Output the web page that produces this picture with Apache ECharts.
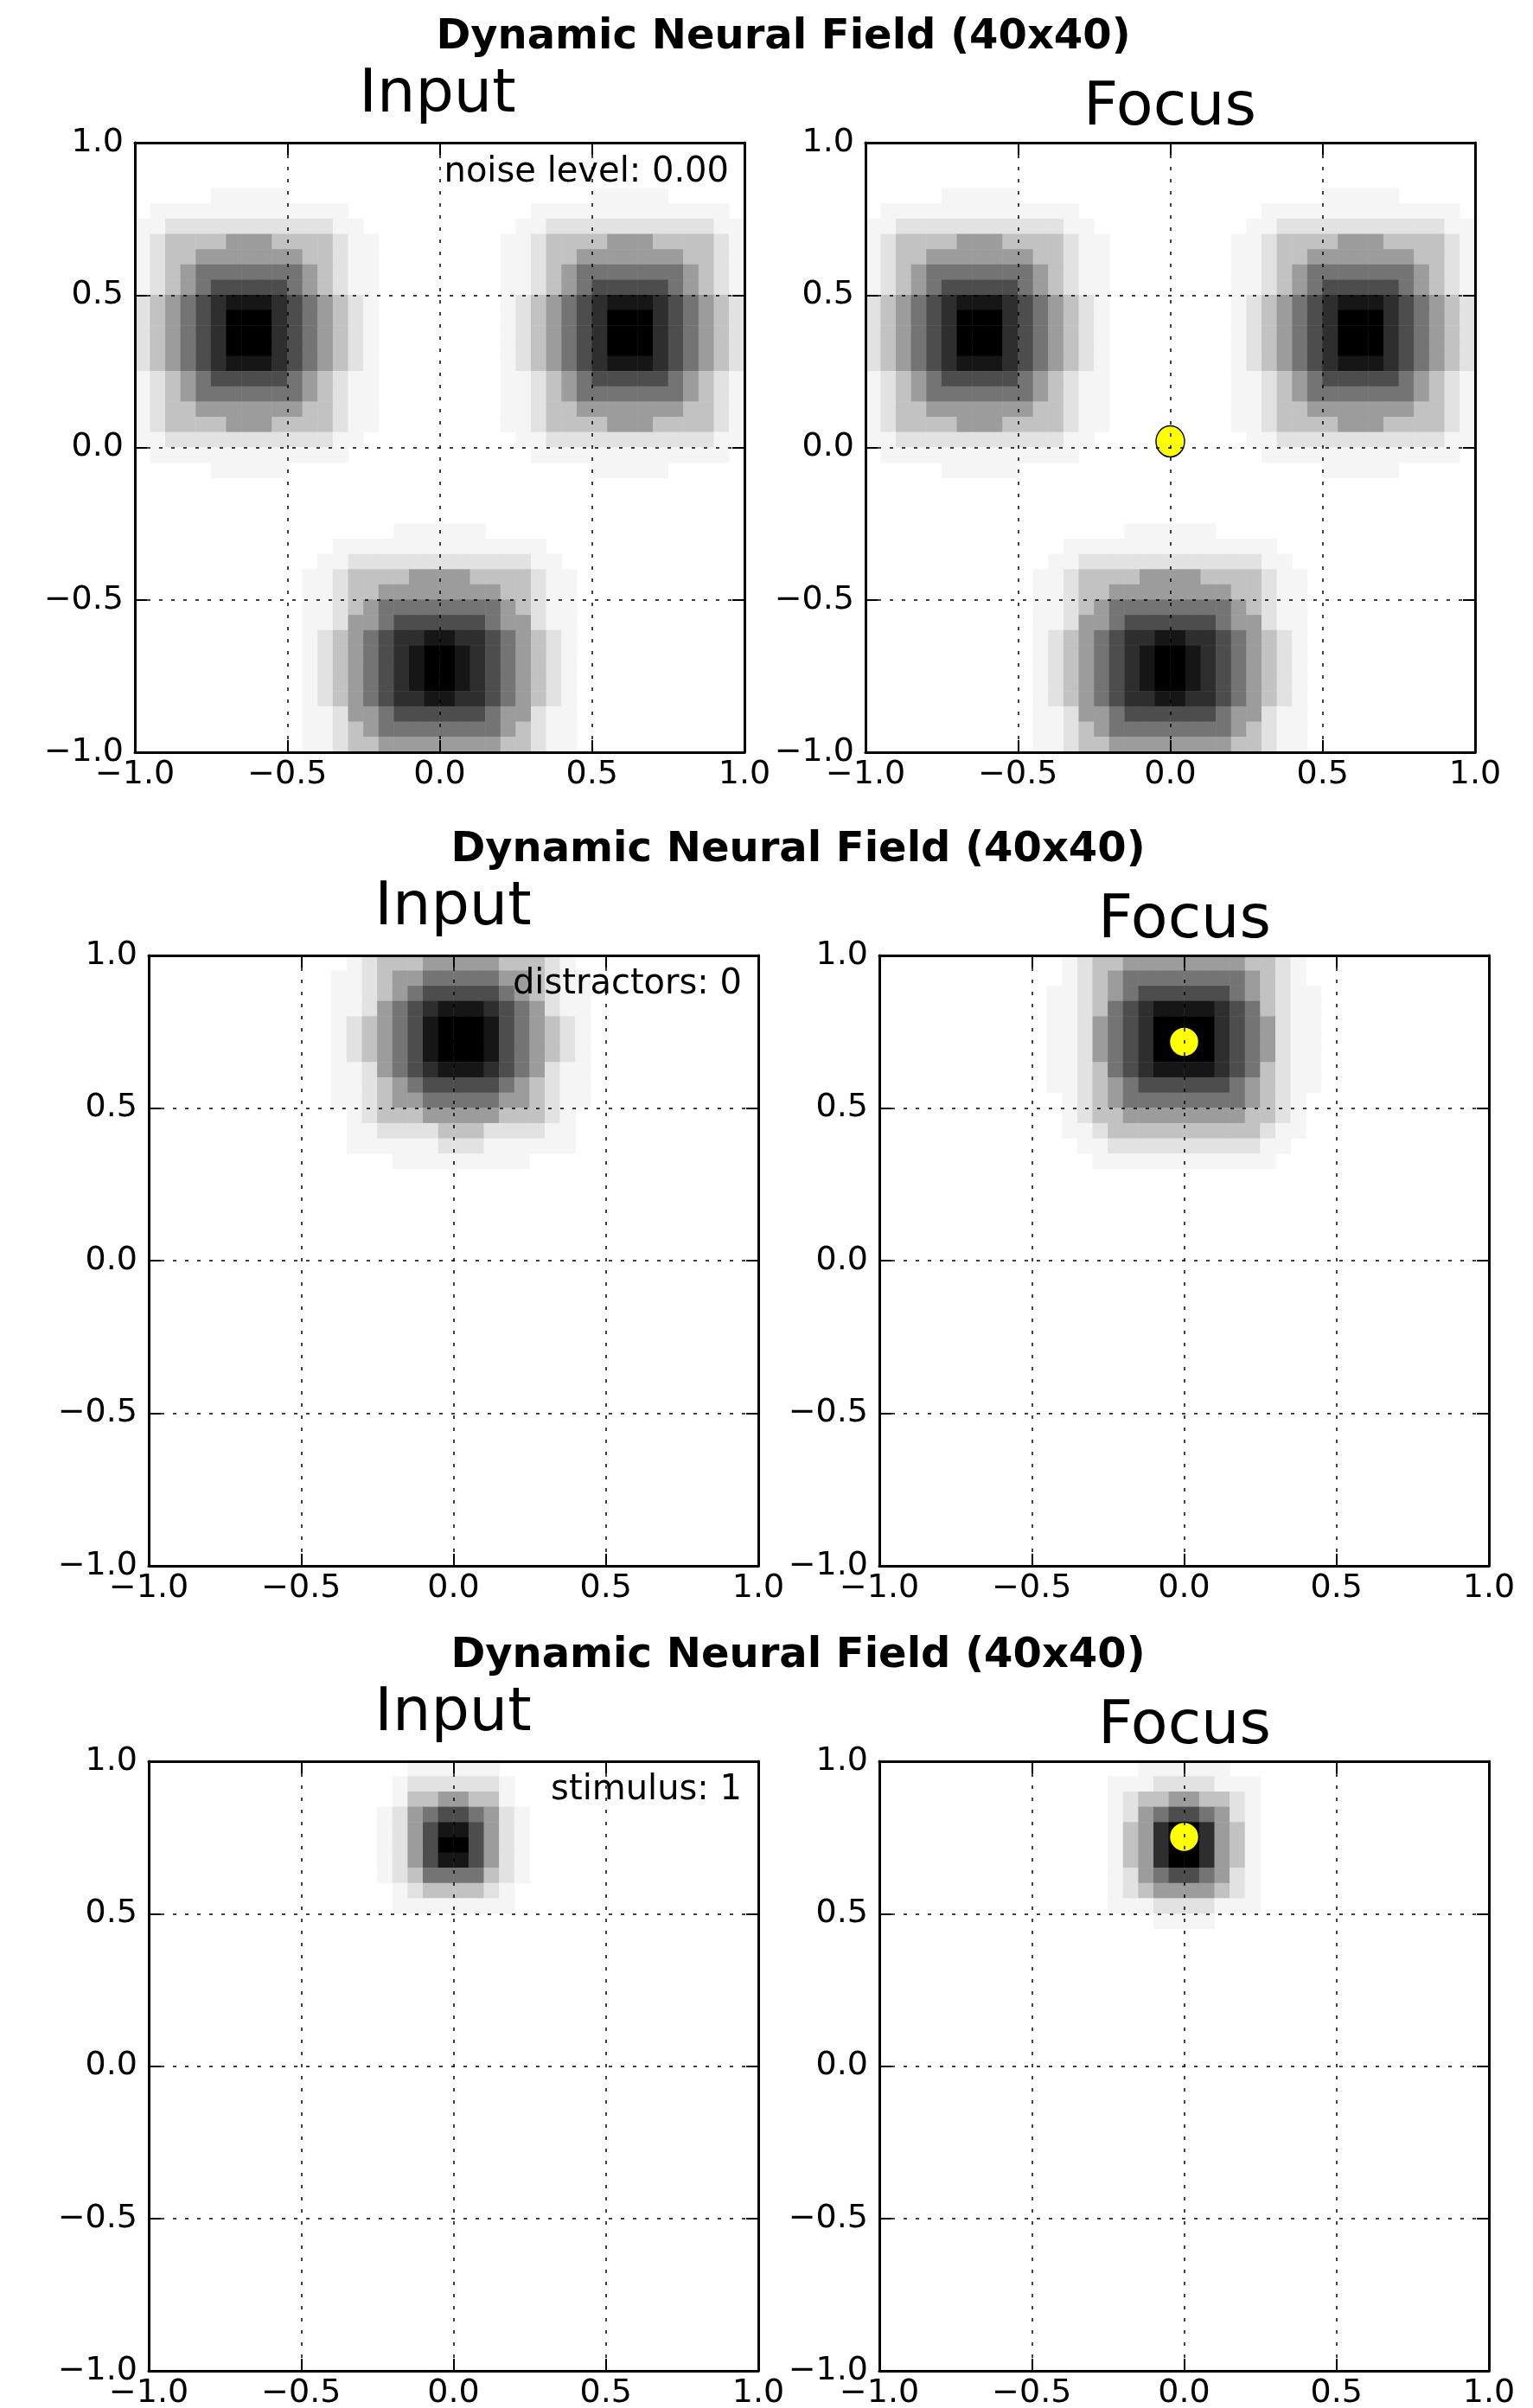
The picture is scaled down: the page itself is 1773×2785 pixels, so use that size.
<!DOCTYPE html>
<html><head><meta charset="utf-8">
<script src="https://cdn.jsdelivr.net/npm/echarts@6/dist/echarts.min.js"></script>
<style>html,body{margin:0;padding:0;background:#fff}#c{width:1773px;height:2785px}</style>
</head><body><div id="c"></div><script>
// ---------------- data ----------------
const figTitle = 'Dynamic Neural Field (40x40)';
const panelTitles = ['Input', 'Focus'];
const notes = ['noise level: 0.00', 'distractors: 0', 'stimulus: 1'];
const tickValues = [-1, -0.5, 0, 0.5, 1];
const tickLabels = ['\u22121.0', '\u22120.5', '0.0', '0.5', '1.0'];
// 40x40 field, darkness levels 0..9 (9 = black); patches anchored at [col, row-from-top]
const row1LeftBlob = [
 "00000111110000000","01111111111111000","11222222222221100","12333344433332110","12334444444332110",
 "12345555555432110","12345666665432110","23456788876543210","23456799976543210","23456799976543210",
 "23456799976543210","23456788876543210","12345666665432110","12345555555432110","12334444444332110",
 "12333344433332110","11222222222221100","01111111111111000","00000111110000000"];
const row1RightBlob = [
 "00000001111100000","00011111111111110","00112222222222211","01123333444333321","01123344444443321",
 "01123455555554321","01123456666654321","01234567888765432","01234567999765432","01234567999765432",
 "01234567999765432","01234567888765432","01123456666654321","01123455555554321","01123344444443321",
 "01123333444333321","00112222222222211","00011111111111110","00000001111100000"];
const row1BottomBlob = [
 "00000001111110000000","00011111111111111000","00112222222222221100","01123333444433332110",
 "01123344444444332110","01123455555555432110","01124456666665442110","01234567788776543210",
 "01234567899876543210","01234567899876543210","01234567899876543210","01234567788776543210",
 "01124456666665442110","01123455555555432110","01123344444444332110"];
const row2InputBlob = [
 "0012333444443332100","0112344555554432110","0112345666665432110","0112456788876542110",
 "0123456899986543210","0123456899986543210","0123456899986543210","0112456788876542110",
 "0112345666665432110","0112344555554432110","0012333444443332100","0011222233322221100",
 "0011111122211111100","0000011111111100000"];
const row2FocusBlob = [
 "00123344444444332100","00123455555555432100","01123456666665432110","01123567888876532110",
 "01124567999976542110","01124567999976542110","01124567999976542110","01123567888876532110",
 "01123456666665432110","00123455555555432100","00123344444444332100","00112333333333321100",
 "00011222222222211000","00001111111111110000"];
const row3InputBlob = [
 "0011111100","0122222210","0133443310","1245665421","1246886421",
 "1246996421","1246886421","1235555321","0123333210","0111111110"];
const row3FocusBlob = [
 "0011111100","1112222111","1233443321","1245665421","1347997431",
 "1347997431","1347997431","1245665421","1234444321","1112222111","0001111000"];
const row1Anchors = [[0, 3], [23, 3], [10, 25]];
const row2InputAnchor = [11, 0];
const row2FocusAnchor = [10, 0];
const row3Anchor = [15, 0];
const dotX = [0.0, 0.0, 0.0];
const dotY = [0.02, 0.717, 0.752];

// ---------------- build ----------------
const cellCats = Array.from({length: 40}, (_, i) => String(i));
function cellsFrom(list) {
  const out = [];
  list.forEach(([patch, anchor]) => {
    patch.forEach((s, r) => {
      for (let c = 0; c < s.length; c++) {
        const v = +s[c];
        if (v > 0) out.push([anchor[0] + c, anchor[1] + r, v]);
      }
    });
  });
  return out;
}
const row1Cells = cellsFrom([[row1LeftBlob, row1Anchors[0]], [row1RightBlob, row1Anchors[1]], [row1BottomBlob, row1Anchors[2]]]);
const panelCells = [
  row1Cells, row1Cells,
  cellsFrom([[row2InputBlob, row2InputAnchor]]), cellsFrom([[row2FocusBlob, row2FocusAnchor]]),
  cellsFrom([[row3InputBlob, row3Anchor]]), cellsFrom([[row3FocusBlob, row3Anchor]])
];

// layout (pixels)
const rects = [
  [156, 165, 705, 705], [1001, 165, 705, 705],
  [172, 1105, 705, 706], [1017, 1105, 705, 706],
  [172, 2037, 705, 705], [1017, 2037, 705, 705]
];
const dotSizes = [[33, 36], 34, 34];
const levelColors = ['#ffffff','#f5f5f5','#e2e2e2','#c2c2c2','#9c9c9c','#747474','#4d4d4d','#2e2e2e','#161616','#000000'];
const FONT = 'DejaVu Sans';
const fmt = v => { const i = tickValues.findIndex(t => Math.abs(t - v) < 1e-9); return i >= 0 ? tickLabels[i] : ''; };

const xAxis = [], yAxis = [], series = [], heatIdx = [];
rects.forEach((r, p) => {
  const line = {show: true, onZero: false, lineStyle: {color: '#000', width: 3}};
  const tick = {show: true, inside: true, length: 14, lineStyle: {color: '#000', width: 2}};
  const lab = {show: true, fontSize: 38, fontFamily: FONT, color: '#000', formatter: fmt};
  const split = {show: true, lineStyle: {color: '#000', width: 1.5, type: [4, 10]}};
  xAxis.push({type: 'category', gridIndex: p, data: cellCats, show: false, axisLine: {onZero: false}});
  xAxis.push({type: 'value', gridIndex: p, min: -1, max: 1, interval: 0.5, position: 'bottom', z: 5,
    axisLine: line, axisTick: tick, axisLabel: Object.assign({margin: 7}, lab), splitLine: split});
  xAxis.push({type: 'value', gridIndex: p, min: -1, max: 1, interval: 0.5, position: 'top', z: 5,
    axisLine: line, axisTick: tick, axisLabel: {show: false}, splitLine: {show: false}});
  yAxis.push({type: 'category', gridIndex: p, data: cellCats, inverse: true, show: false, axisLine: {onZero: false}});
  yAxis.push({type: 'value', gridIndex: p, min: -1, max: 1, interval: 0.5, position: 'left', z: 5,
    axisLine: line, axisTick: tick, axisLabel: Object.assign({margin: 13}, lab), splitLine: split});
  yAxis.push({type: 'value', gridIndex: p, min: -1, max: 1, interval: 0.5, position: 'right', z: 5,
    axisLine: line, axisTick: tick, axisLabel: {show: false}, splitLine: {show: false}});
  heatIdx.push(series.length);
  series.push({type: 'heatmap', xAxisIndex: 3 * p, yAxisIndex: 3 * p, data: panelCells[p], z: 2,
    silent: true, progressive: 0, itemStyle: {borderWidth: 0}, emphasis: {disabled: true}});
  if (p % 2 === 1) {
    const row = (p - 1) / 2;
    series.push({type: 'scatter', xAxisIndex: 3 * p + 1, yAxisIndex: 3 * p + 1, z: 3, silent: true,
      data: [[dotX[row], dotY[row]]], symbol: 'circle', symbolSize: dotSizes[row],
      itemStyle: {color: '#ffff00', borderColor: '#000', borderWidth: 1.5, opacity: 1}});
  }
});

function txt(text, x, y, size, weight, align) {
  return {type: 'text', x: x, y: y, z: 100, silent: true,
    style: {text: text, fontSize: size, fontFamily: FONT, fontWeight: weight, fill: '#000',
      align: align, textAlign: align, verticalAlign: 'middle', textVerticalAlign: 'middle'}};
}
const supPos = [[906, 44], [923, 984], [923, 1916]];
const inputPos = [[506, 111], [524, 1051], [524, 1983]];
const focusPos = [[1353, 126], [1370, 1066], [1370, 1998]];
const notePos = [[843, 200], [858, 1139], [858, 2071]];
const elements = [];
for (let i = 0; i < 3; i++) {
  elements.push(txt(figTitle, supPos[i][0], supPos[i][1], 48, 'bold', 'center'));
  elements.push(txt(panelTitles[0], inputPos[i][0], inputPos[i][1], 70, 'normal', 'center'));
  elements.push(txt(panelTitles[1], focusPos[i][0], focusPos[i][1], 70, 'normal', 'center'));
  elements.push(txt(notes[i], notePos[i][0], notePos[i][1], 40, 'normal', 'right'));
}

const chart = echarts.init(document.getElementById('c'), null, {renderer: 'canvas'});
chart.setOption({
  animation: false,
  backgroundColor: '#ffffff',
  grid: rects.map(r => ({left: r[0], top: r[1], width: r[2], height: r[3], containLabel: false, outerBoundsMode: 'none'})),
  xAxis: xAxis, yAxis: yAxis,
  visualMap: {type: 'continuous', show: false, min: 0, max: 9, dimension: 2, seriesIndex: heatIdx,
    inRange: {color: levelColors}},
  series: series,
  graphic: {elements: elements}
});
</script></body></html>
